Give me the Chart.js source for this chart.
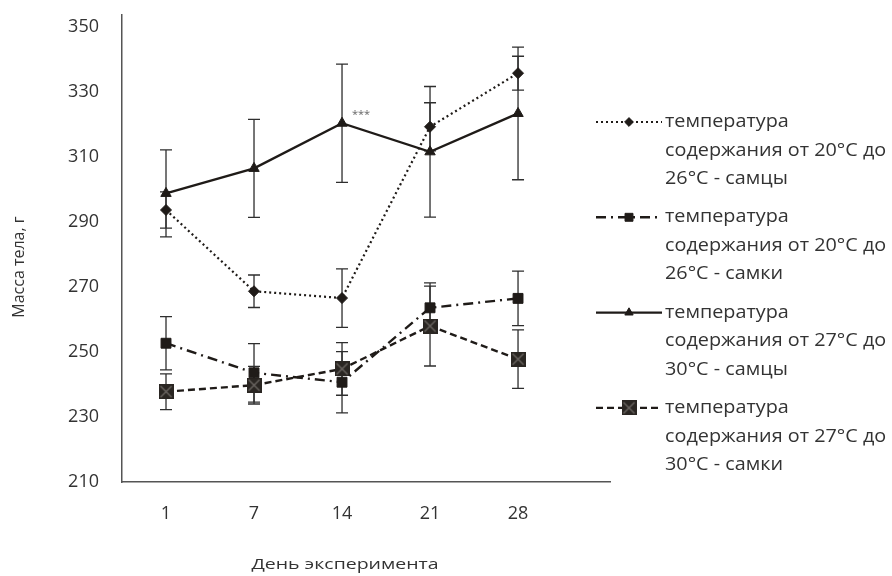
<!DOCTYPE html>
<html lang="ru">
<head>
<meta charset="utf-8">
<title>Масса тела</title>
<script src="https://cdn.jsdelivr.net/npm/chart.js@4.4.1/dist/chart.umd.min.js"></script>
<style>
  html, body { margin: 0; padding: 0; background: #fff; }
  #wrap { width: 892px; height: 576px; }
</style>
</head>
<body>
<div id="wrap"><canvas id="chart" width="892" height="576"></canvas></div>
<script>
// Days of the experiment and y ticks
const days = ['1', '7', '14', '21', '28'];
const yTicks = [210, 230, 250, 270, 290, 310, 330, 350];

// Body mass, g (mean and +/- error)
const males2026 = [293.7, 268.7, 266.6, 319.3, 335.8];
const males2026Err = [5.6, 5.0, 9.0, 7.4, 5.2];
const females2026 = [252.7, 243.6, 240.7, 263.6, 266.5];
const females2026Err = [8.2, 9.0, 9.4, 7.7, 8.4];
const males2730 = [298.8, 306.5, 320.4, 311.6, 323.4];
const males2730Err = [13.4, 15.1, 18.2, 20.1, 20.4];
const females2730 = [237.8, 239.8, 244.8, 258.0, 247.8];
const females2730Err = [5.5, 5.8, 8.1, 12.3, 9.0];

const legendLines = [
    ['температура', 'содержания от 20°C до', '26°C - самцы'],
    ['температура', 'содержания от 20°C до', '26°C - самки'],
    ['температура', 'содержания от 27°C до', '30°C - самцы'],
    ['температура', 'содержания от 27°C до', '30°C - самки'],
];

const INK = '#1f1b18';
const TEXT = '#333333';
const FONT = '"Open Sans", "DejaVu Sans", sans-serif';

// square with a light cross for the last series
function crossedSquare(size) {
    const c = document.createElement('canvas');
    c.width = size; c.height = size;
    const g = c.getContext('2d');
    g.fillStyle = '#2a2622';
    g.fillRect(0, 0, size, size);
    g.strokeStyle = '#6f6a66';
    g.lineWidth = 1.2;
    g.beginPath();
    g.moveTo(2, 2); g.lineTo(size - 2, size - 2);
    g.moveTo(size - 2, 2); g.lineTo(2, size - 2);
    g.stroke();
    return c;
}

const toPoints = vals => vals.map((v, i) => ({ x: i, y: v }));

// text stretched sideways a little, like in the source figure
function wideText(ctx, text, x, y, sx) {
    ctx.save();
    ctx.translate(x, y);
    ctx.scale(sx, 1);
    ctx.fillText(text, 0, 0);
    ctx.restore();
}

const errorBars = {
    id: 'errorBars',
    beforeDatasetsDraw(chart) {
        const { ctx, scales: { x, y } } = chart;
        ctx.save();
        ctx.strokeStyle = '#2e2e2e';
        ctx.lineWidth = 1.3;
        chart.data.datasets.forEach(ds => {
            ds.errors.forEach((e, i) => {
                const px = x.getPixelForValue(i);
                const top = y.getPixelForValue(ds.data[i].y + e);
                const bot = y.getPixelForValue(ds.data[i].y - e);
                ctx.beginPath();
                ctx.moveTo(px, top); ctx.lineTo(px, bot);
                ctx.moveTo(px - 6, top); ctx.lineTo(px + 6, top);
                ctx.moveTo(px - 6, bot); ctx.lineTo(px + 6, bot);
                ctx.stroke();
            });
        });
        ctx.restore();
    },
};

const extras = {
    id: 'extras',
    afterDraw(chart) {
        const { ctx, scales: { x, y } } = chart;
        ctx.save();

        // significance mark next to day 14, males 27-30
        ctx.fillStyle = '#666';
        ctx.font = '11px ' + FONT;
        ctx.textAlign = 'center';
        ctx.textBaseline = 'middle';
        ctx.fillText('***', x.getPixelForValue(2) + 19, y.getPixelForValue(males2730[2]) - 8);

        // axis titles
        ctx.fillStyle = TEXT;
        ctx.font = '15px ' + FONT;
        wideText(ctx, 'День эксперимента', 345, 565, 1.3);
        ctx.font = '16px ' + FONT;
        ctx.save();
        ctx.translate(19, 267);
        ctx.rotate(-Math.PI / 2);
        ctx.fillText('Масса тела, г', 0, 0);
        ctx.restore();

        // legend on the right
        chart.data.datasets.forEach((ds, i) => {
            const y0 = 122 + i * 95.3;
            ctx.strokeStyle = ds.borderColor;
            ctx.lineWidth = ds.borderWidth;
            ctx.setLineDash(ds.borderDash || []);
            ctx.beginPath();
            ctx.moveTo(596, y0); ctx.lineTo(662, y0);
            ctx.stroke();
            ctx.setLineDash([]);
            ctx.fillStyle = ds.pointBackgroundColor;
            ctx.strokeStyle = ds.pointBorderColor;
            ctx.lineWidth = 1;
            Chart.helpers.drawPoint(ctx, { pointStyle: ds.pointStyle, radius: ds.pointRadius * 0.8, rotation: 0, borderWidth: 1 }, 629, y0);

            ctx.fillStyle = TEXT;
            ctx.font = '18px ' + FONT;
            ctx.textAlign = 'left';
            ctx.textBaseline = 'middle';
            legendLines[i].forEach((line, k) => wideText(ctx, line, 665, y0 + k * 28.5, 1.1));
        });
        ctx.restore();
    },
};

function lineSet(label, vals, errs, extra) {
    return {
        label,
        data: toPoints(vals),
        errors: errs,
        borderColor: INK,
        borderWidth: 2.4,
        pointBackgroundColor: INK,
        pointBorderColor: INK,
        pointBorderWidth: 1,
        tension: 0,
        ...extra,
    };
}

new Chart(document.getElementById('chart'), {
    type: 'line',
    data: {
        datasets: [
            lineSet(legendLines[0].join(' '), males2026, males2026Err, { borderDash: [2, 3], borderWidth: 2.2, pointStyle: 'rectRot', pointRadius: 5.5 }),
            lineSet(legendLines[1].join(' '), females2026, females2026Err, { borderDash: [10, 5, 2, 5], pointStyle: 'rect', pointRadius: 7 }),
            lineSet(legendLines[2].join(' '), males2730, males2730Err, { pointStyle: 'triangle', pointRadius: 6 }),
            lineSet(legendLines[3].join(' '), females2730, females2730Err, { borderDash: [7, 4], pointStyle: crossedSquare(15), pointRadius: 7 }),
        ],
    },
    options: {
        responsive: false,
        animation: false,
        devicePixelRatio: 1,
        layout: { padding: { top: 15, right: 282, left: 0, bottom: 0 } },
        plugins: { legend: { display: false }, tooltip: { enabled: false } },
        scales: {
            x: {
                type: 'linear',
                min: -0.5,
                max: 5.045,
                afterBuildTicks: s => { s.ticks = days.map((d, i) => ({ value: i })); },
                afterFit: s => { s.height = 94; s.paddingLeft = 0; s.paddingRight = 0; },
                grid: { display: false },
                border: { display: true, color: '#555', width: 1.5 },
                ticks: { color: TEXT, font: { family: FONT, size: 18 }, padding: 13, autoSkip: false, maxRotation: 0, callback: v => days[v] },
            },
            y: {
                min: 210,
                max: 353.7,
                afterBuildTicks: s => { s.ticks = yTicks.map(v => ({ value: v })); },
                afterFit: s => { s.width = 122; s.paddingTop = 0; s.paddingBottom = 0; },
                grid: { display: false },
                border: { display: true, color: '#555', width: 1.5 },
                ticks: { color: TEXT, font: { family: FONT, size: 18 }, padding: 15 },
            },
        },
    },
    plugins: [errorBars, extras],
});
</script>
</body>
</html>
